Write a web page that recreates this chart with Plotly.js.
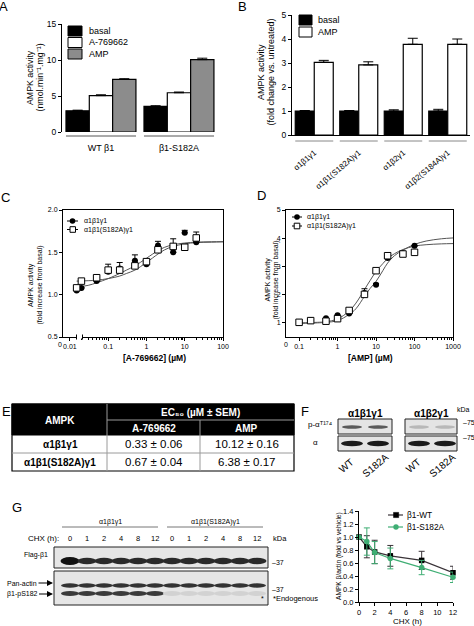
<!DOCTYPE html>
<html><head><meta charset="utf-8">
<script src="https://cdn.plot.ly/plotly-3.0.1.min.js"></script>
<style>html,body{margin:0;padding:0;background:#fff}#chart{width:474px;height:626px}</style>
</head><body><div id="chart"></div>
<script>
// ===== DATA =====
// Panel A
const aGroups = ['WT β1', 'β1-S182A'];
const aNames = ['basal', 'A-769662', 'AMP'];
const aBasal = [2.95, 3.55], aBasalErr = [0.08, 0.1];
const aA769 = [5.05, 5.45], aA769Err = [0.12, 0.1];
const aAMP = [7.3, 10.05], aAMPErr = [0.1, 0.2];
// Panel B
const bComplexes = ['α1β1γ1', 'α1β1(S182A)γ1', 'α1β2γ1', 'α1β2(S184A)γ1'];
const bNames = ['basal', 'AMP'];
const bBasal = [1, 1, 1, 1], bBasalErr = [0.02, 0.02, 0.05, 0.07];
const bAMP = [3.03, 2.92, 3.78, 3.78], bAMPErr = [0.08, 0.13, 0.25, 0.22];
// Panel C
const cNames = ['α1β1γ1', 'α1β1(S182A)γ1'];
const cConc = [0.015, 0.02, 0.05, 0.1, 0.2, 0.5, 1, 2, 5, 10, 20];
const cWT = [1.05, 1.08, 1.16, 1.27, 1.31, 1.40, 1.36, 1.58, 1.50, 1.73, 1.62];
const cWTErr = [0, 0, 0, 0, 0.07, 0.07, 0, 0.05, 0, 0.03, 0];
const cMut = [1.08, 1.16, 1.20, 1.29, 1.29, 1.34, 1.39, 1.53, 1.57, 1.56, 1.67];
const cMutErr = [0, 0, 0, 0.07, 0, 0, 0.03, 0, 0.09, 0, 0.07];
const cFitX = [0.015, 0.03, 0.05, 0.1, 0.2, 0.3, 0.5, 1, 2, 3, 5, 10, 20, 50, 100];
const cFitWT = [1.09, 1.11, 1.14, 1.19, 1.25, 1.29, 1.34, 1.43, 1.52, 1.56, 1.59, 1.61, 1.62, 1.625, 1.625];
const cFitMut = [1.16, 1.165, 1.17, 1.19, 1.22, 1.25, 1.29, 1.38, 1.48, 1.53, 1.57, 1.60, 1.615, 1.62, 1.625];
// Panel D
const dConc = [0.1, 0.2, 0.5, 1, 2, 5, 10, 20, 50, 100];
const dWT = [1.02, 1.09, 1.16, 1.27, 1.33, 2.06, 2.35, 3.30, 3.47, 3.73];
const dWTErr = [0, 0, 0, 0, 0, 0.15, 0.05, 0, 0, 0];
const dMut = [1.02, 1.08, 1.06, 1.15, 1.44, 2.01, 2.85, 3.38, 3.44, 3.50];
const dMutErr = [0, 0, 0, 0, 0, 0, 0, 0.04, 0, 0];
const dFitX = [0.1, 0.3, 0.5, 1, 2, 3, 5, 7, 10, 15, 20, 30, 50, 100, 200, 500, 1000];
const dFitWT = [0.98, 1.0, 1.02, 1.08, 1.3, 1.5, 1.94, 2.22, 2.47, 2.85, 3.12, 3.38, 3.58, 3.78, 3.9, 3.98, 4.01];
const dFitMut = [1.0, 1.02, 1.04, 1.14, 1.42, 1.7, 2.18, 2.5, 2.82, 3.1, 3.28, 3.45, 3.6, 3.72, 3.77, 3.8, 3.81];
// Panel E (table)
const eHeader = ['AMPK', 'EC₅₀ (µM ± SEM)'];
const eCols = ['A-769662', 'AMP'];
const eRows = ['α1β1γ1', 'α1β1(S182A)γ1'];
const eA769 = ['0.33 ± 0.06', '0.67 ± 0.04'];
const eAMPv = ['10.12 ± 0.16', '6.38 ± 0.17'];
// Panel F (blots)
const fComplexes = ['α1β1γ1', 'α1β2γ1'];
const fLanes = ['WT', 'S182A'];
// Panel G
const gGroups = ['α1β1γ1', 'α1β1(S182A)γ1'];
const gLanes = ['0', '1', '2', '4', '8', '12'];
const gNames = ['β1-WT', 'β1-S182A'];
const gTime = [0, 1, 2, 4, 8, 12];
const gWT = [1.0, 0.85, 0.77, 0.71, 0.64, 0.45], gWTErr = [0, 0.17, 0.18, 0.16, 0.14, 0.10];
const gMut = [1.0, 0.93, 0.76, 0.67, 0.53, 0.38], gMutErr = [0, 0.21, 0.17, 0.16, 0.11, 0.08];

// ===== HELPERS =====
const F = 'Liberation Sans, Arial, Helvetica, sans-serif';
const W = 474, H = 626;
const X = p => p / W, Y = p => 1 - p / H;
const shapes = [], ann = [], traces = [];
function rect(x0, y0, x1, y1, fill, lc, lw) {
  shapes.push({type: 'rect', xref: 'paper', yref: 'paper', x0: X(x0), x1: X(x1), y0: Y(y1), y1: Y(y0),
    fillcolor: fill, line: {color: lc || fill, width: lw === undefined ? 1 : lw}, layer: 'above'});
}
function line(x0, y0, x1, y1, c, w) {
  shapes.push({type: 'line', xref: 'paper', yref: 'paper', x0: X(x0), x1: X(x1), y0: Y(y0), y1: Y(y1),
    line: {color: c, width: w}, layer: 'above'});
}
function ell(cx, cy, rx, ry, fill, lc, lw) {
  shapes.push({type: 'circle', xref: 'paper', yref: 'paper', x0: X(cx - rx), x1: X(cx + rx), y0: Y(cy + ry), y1: Y(cy - ry),
    fillcolor: fill, line: {color: lc || fill, width: lw || 0}, layer: 'above'});
}
function T(x, y, text, size, o) {
  o = o || {};
  ann.push({xref: 'paper', yref: 'paper', x: X(x), y: Y(y), text: text, showarrow: false,
    xanchor: o.xa || 'center', yanchor: 'middle', textangle: o.angle || 0,
    font: {family: F, size: size, color: o.color || '#000'}});
}
const errUp = (arr, c, w) => ({type: 'data', symmetric: false, array: arr, arrayminus: arr.map(() => 0), color: c || '#000', thickness: 1, width: w || 4});

// ===== PANEL A =====
const aVals = [aBasal, aA769, aAMP], aErrs = [aBasalErr, aA769Err, aAMPErr];
const aColors = ['#000000', '#ffffff', '#8c8c8c'];
aNames.forEach((n, i) => traces.push({type: 'bar', name: n, x: aGroups, y: aVals[i], xaxis: 'x', yaxis: 'y',
  width: 0.299, offset: -0.449 + i * 0.299, marker: {color: aColors[i], line: {color: '#000', width: 1.2}},
  error_y: errUp(aErrs[i], '#000', 5), showlegend: false, cliponaxis: false}));
aGroups.forEach((g, i) => shapes.push({type: 'line', xref: 'x', yref: 'paper', x0: i - 0.449, x1: i + 0.449, y0: Y(136), y1: Y(136), line: {color: '#555', width: 1}}));
aNames.forEach((n, i) => { rect(68, 26 + i * 11.5, 82, 36 + i * 11.5, aColors[i], '#000', 1); T(87, 31 + i * 11.5, n, 9, {xa: 'left'}); });
T(30, 78, 'AMPK activity', 8.8, {angle: -90});
T(39.5, 78, '(nmol.min⁻¹.mg⁻¹)', 8.8, {angle: -90});

// ===== PANEL B =====
const bVals = [bBasal, bAMP], bErrs = [bBasalErr, bAMPErr], bColors = ['#000000', '#ffffff'];
bNames.forEach((n, i) => traces.push({type: 'bar', name: n, x: bComplexes, y: bVals[i], xaxis: 'x2', yaxis: 'y2',
  width: 0.427, offset: -0.427 + i * 0.427, marker: {color: bColors[i], line: {color: '#000', width: 1.2}},
  error_y: errUp(bErrs[i], '#000', 5), showlegend: false, cliponaxis: false}));
bComplexes.forEach((g, i) => shapes.push({type: 'line', xref: 'x2', yref: 'paper', x0: i - 0.427, x1: i + 0.427, y0: Y(141), y1: Y(141), line: {color: '#888', width: 1}}));
bNames.forEach((n, i) => { rect(299, 15 + i * 12, 312, 25 + i * 12, bColors[i], '#000', 1); T(316, 20 + i * 12, n, 9, {xa: 'left'}); });
T(261, 72, 'AMPK activity', 9, {angle: -90});
T(270.5, 72, '(fold change vs. untreated)', 9, {angle: -90});

// ===== PANEL C =====
const sym = [{symbol: 'circle', size: 6, color: '#000'}, {symbol: 'square', size: 6.5, color: '#fff', line: {color: '#000', width: 1}}];
traces.push({type: 'scatter', mode: 'lines', x: cFitX, y: cFitWT, xaxis: 'x3', yaxis: 'y3', line: {color: '#555', width: 1, shape: 'spline'}, showlegend: false, hoverinfo: 'skip'});
traces.push({type: 'scatter', mode: 'lines', x: cFitX, y: cFitMut, xaxis: 'x3', yaxis: 'y3', line: {color: '#555', width: 1, shape: 'spline'}, showlegend: false, hoverinfo: 'skip'});
traces.push({type: 'scatter', mode: 'markers', name: cNames[0], x: cConc, y: cWT, xaxis: 'x3', yaxis: 'y3', marker: sym[0], error_y: errUp(cWTErr, '#000', 3), showlegend: false, cliponaxis: false});
traces.push({type: 'scatter', mode: 'markers', name: cNames[1], x: cConc, y: cMut, xaxis: 'x3', yaxis: 'y3', marker: sym[1], error_y: errUp(cMutErr, '#000', 3), showlegend: false, cliponaxis: false});
cNames.forEach((n, i) => {
  const y = 221 + i * 8.5;
  line(67, y, 78, y, '#000', 1);
  if (i === 0) ell(72.5, y, 2.8, 2.8, '#000'); else rect(70, y - 2.8, 75.5, y + 2.8, '#fff', '#000', 1);
  T(82, y, n, 7, {xa: 'left'});
});
T(60, 344.5, '0', 7);
line(77, 337, 82, 337, '#fff', 3);
line(76.5, 334.5, 76.5, 339.5, '#000', 1);
line(82.5, 334.5, 82.5, 339.5, '#000', 1);
T(31, 285, 'AMPK activity', 7, {angle: -90});
T(39.5, 285, '(fold increase from basal)', 7, {angle: -90});
T(154, 358, '<b>[A-769662] (µM)</b>', 8.5);

// ===== PANEL D =====
traces.push({type: 'scatter', mode: 'lines', x: dFitX, y: dFitWT, xaxis: 'x4', yaxis: 'y4', line: {color: '#555', width: 1, shape: 'spline'}, showlegend: false, hoverinfo: 'skip'});
traces.push({type: 'scatter', mode: 'lines', x: dFitX, y: dFitMut, xaxis: 'x4', yaxis: 'y4', line: {color: '#555', width: 1, shape: 'spline'}, showlegend: false, hoverinfo: 'skip'});
traces.push({type: 'scatter', mode: 'markers', name: cNames[0], x: dConc, y: dWT, xaxis: 'x4', yaxis: 'y4', marker: sym[0], error_y: errUp(dWTErr, '#000', 3), showlegend: false, cliponaxis: false});
traces.push({type: 'scatter', mode: 'markers', name: cNames[1], x: dConc, y: dMut, xaxis: 'x4', yaxis: 'y4', marker: sym[1], error_y: errUp(dMutErr, '#000', 3), showlegend: false, cliponaxis: false});
cNames.forEach((n, i) => {
  const y = 217 + i * 9;
  line(292, y, 302, y, '#000', 1);
  if (i === 0) ell(297, y, 2.8, 2.8, '#000'); else rect(294.2, y - 2.8, 299.8, y + 2.8, '#fff', '#000', 1);
  T(305, y, n, 7, {xa: 'left'});
});
T(286, 344.5, '0', 7);
T(267.5, 280, 'AMPK activity', 7, {angle: -90});
T(275.5, 280, '(fold increase from basal)', 7, {angle: -90});
T(370, 358, '<b>[AMP] (µM)</b>', 8.5);

// ===== PANEL E (table) =====
rect(12, 404, 294, 471, '#ffffff', '#000', 1.2);
rect(12, 404, 294, 435, '#000000', '#000', 1);
line(107, 420, 294, 420, '#9a9a9a', 1);
line(107, 404, 107, 471, '#9a9a9a', 1);
line(200, 420, 200, 471, '#9a9a9a', 1);
line(12, 453, 294, 453, '#9a9a9a', 1);
T(60, 420, '<b>' + eHeader[0] + '</b>', 10, {color: '#fff'});
T(200, 412, '<b>' + eHeader[1] + '</b>', 10, {color: '#fff'});
T(153.5, 428, '<b>' + eCols[0] + '</b>', 10, {color: '#fff'});
T(247, 428, '<b>' + eCols[1] + '</b>', 10, {color: '#fff'});
eRows.forEach((r, i) => {
  const y = 444 + i * 18;
  T(60, y, '<b>' + r + '</b>', 10);
  T(153.5, y, eA769[i], 11.5);
  T(247, y, eAMPv[i], 11.5);
});

// ===== PANEL F (blots) =====
const fBoxX = [[338, 392], [405, 457]];
fComplexes.forEach((c, k) => {
  const [x0, x1] = fBoxX[k];
  T((x0 + x1) / 2, 413, '<b>' + c + '</b>', 10);
  rect(x0, 419, x1, 434, '#e4e4e4', '#222', 1);
  rect(x0, 436, x1, 451, '#e4e4e4', '#222', 1);
  fLanes.forEach((l, j) => {
    const cx = x0 + 14 + j * 26;
    ell(cx, 427, 10, 1.8, k === 0 ? '#5a5a5a' : '#b8b8b8');
    ell(cx, 443.5, 11, 2.8, '#1a1a1a');
    T(cx - 6 + j * 3, 465, l, 10, {angle: -40});
  });
});
T(463, 409, 'kDa', 7);
T(461, 423, '–75', 7, {xa: 'left'});
T(461, 437, '–75', 7, {xa: 'left'});
T(320, 424, 'p-αᵀ¹⁷⁴', 8);
T(315, 442, 'α', 8);

// ===== PANEL G (blot) =====
const gLaneX = i => 70 + i * 17;
gGroups.forEach((g, k) => {
  T(110 + k * 105, 522, g, 7);
  line(62 + k * 105, 527, 158 + k * 105, 527, '#777', 1);
});
T(43, 538, 'CHX (h):', 8);
gGroups.forEach((g, k) => gLanes.forEach((l, j) => T(gLaneX(k * 6 + j), 538, l, 7.5)));
T(280, 538, 'kDa', 7.5);
rect(54, 547, 268, 568, '#e6e6e6', '#222', 1);
rect(54, 571, 268, 605, '#e6e6e6', '#222', 1);
for (let i = 0; i < 12; i++) {
  const cx = gLaneX(i);
  ell(cx, 561, 9.5, i === 0 ? 4 : 3.2, i === 0 ? '#111' : '#2a2a2a');
  ell(cx, 585.5, 9, 2.2, '#333');
  ell(cx, 593.5, 9, 2.6, i < 6 ? '#3a3a3a' : '#d2d2d2');
}
T(36, 555, 'Flag-β1', 7);
T(270, 562, '–37', 7, {xa: 'left'});
T(270, 589, '–37', 7, {xa: 'left'});
T(271, 598, '*Endogenous', 7.5, {xa: 'left'});
T(262, 598, '*', 7);
ann.push({xref: 'paper', yref: 'paper', x: X(53), y: Y(583), ax: -31, ay: 0, text: 'Pan-actin', showarrow: true, arrowhead: 2, arrowsize: 1, arrowwidth: 1.2, arrowcolor: '#000', font: {family: F, size: 7, color: '#000'}});
ann.push({xref: 'paper', yref: 'paper', x: X(53), y: Y(594), ax: -31, ay: 0, text: 'β1-pS182', showarrow: true, arrowhead: 2, arrowsize: 1, arrowwidth: 1.2, arrowcolor: '#000', font: {family: F, size: 7, color: '#000'}});

// ===== PANEL G (line chart) =====
const gCol = ['#3a3338', '#3fae74'];
traces.push({type: 'scatter', mode: 'lines+markers', name: gNames[0], x: gTime, y: gWT, xaxis: 'x5', yaxis: 'y5',
  line: {color: gCol[0], width: 1.2}, marker: {symbol: 'square', size: 5.5, color: '#000'},
  error_y: {type: 'data', array: gWTErr, color: gCol[0], thickness: 1, width: 3}, showlegend: false, cliponaxis: false});
traces.push({type: 'scatter', mode: 'lines+markers', name: gNames[1], x: gTime, y: gMut, xaxis: 'x5', yaxis: 'y5',
  line: {color: gCol[1], width: 1.2}, marker: {symbol: 'circle', size: 5.5, color: gCol[1]},
  error_y: {type: 'data', array: gMutErr, color: gCol[1], thickness: 1, width: 3}, showlegend: false, cliponaxis: false});
gNames.forEach((n, i) => {
  const y = 515 + i * 12;
  line(388, y, 403, y, gCol[i], 1.2);
  if (i === 0) rect(393.5, y - 2.6, 398.7, y + 2.6, '#000', '#000', 0.5); else ell(396, y, 2.7, 2.7, gCol[1]);
  T(405, y, n, 8.3, {xa: 'left'});
});
T(339, 556, 'AMPK β/actin (fold vs vehicle)', 6.6, {angle: -90});
T(407, 621, 'CHX (h)', 8);

// Panel letters
[['A', 4, 7], ['B', 243, 7], ['C', 5, 197], ['D', 261, 195], ['E', 6, 411], ['F', 305, 411], ['G', 17, 507]].forEach(p => T(p[1], p[2], p[0], 13));

// ===== LAYOUT =====
const base = {showgrid: false, zeroline: false, showline: true, linecolor: '#000', linewidth: 1, ticks: 'outside', ticklen: 3,
  tickwidth: 1, tickcolor: '#000', fixedrange: true};
const tf = s => ({family: F, size: s, color: '#000'});
const logMinor = (lo, hi) => { const v = []; for (let d = lo; d < hi; d++) for (let k = 2; k <= 9; k++) v.push(k * Math.pow(10, d)); return v; };
const layout = {
  width: W, height: H, margin: {l: 0, r: 0, t: 0, b: 0}, paper_bgcolor: '#fff', plot_bgcolor: 'rgba(0,0,0,0)',
  showlegend: false, barmode: 'overlay', font: {family: F, color: '#000'},
  xaxis: Object.assign({}, base, {domain: [X(62), X(218)], anchor: 'y', type: 'category', showline: false, ticks: '', tickfont: tf(9), ticklabelstandoff: 9, range: [-0.5, 1.5]}),
  yaxis: Object.assign({}, base, {domain: [Y(132), Y(24)], anchor: 'x', range: [0, 15], tickvals: [0, 5, 10, 15], tickfont: tf(8.5)}),
  xaxis2: Object.assign({}, base, {domain: [X(292), X(470)], anchor: 'y2', type: 'category', ticks: '', tickangle: -40, tickfont: tf(8), ticklabelstandoff: 9, range: [-0.5, 3.5]}),
  yaxis2: Object.assign({}, base, {domain: [Y(135), Y(15)], anchor: 'x2', range: [0, 5], tickvals: [0, 1, 2, 3, 4, 5], tickfont: tf(8.5)}),
  xaxis3: Object.assign({}, base, {domain: [X(63), X(223)], anchor: 'y3', type: 'log', range: [-2.18, 2], mirror: true,
    tickmode: 'array', tickvals: [0.01, 0.1, 1, 10, 100], ticktext: ['0.01', '0.1', '1', '10', '100'], tickfont: tf(7),
    minor: {tickmode: 'array', tickvals: logMinor(-2, 2), ticks: 'outside', ticklen: 2, tickcolor: '#000', showgrid: false}}),
  yaxis3: Object.assign({}, base, {domain: [Y(337), Y(210)], anchor: 'x3', range: [0.5, 2.0], mirror: true, tickvals: [0.5, 1, 1.5, 2], tickformat: '.1f', tickfont: tf(7)}),
  xaxis4: Object.assign({}, base, {domain: [X(286), X(453)], anchor: 'y4', type: 'log', range: [-1.34, 3], mirror: true,
    tickmode: 'array', tickvals: [0.1, 1, 10, 100, 1000], ticktext: ['0.1', '1', '10', '100', '1000'], tickfont: tf(7),
    minor: {tickmode: 'array', tickvals: logMinor(-1, 3), ticks: 'outside', ticklen: 2, tickcolor: '#000', showgrid: false}}),
  yaxis4: Object.assign({}, base, {domain: [Y(337), Y(210)], anchor: 'x4', range: [0.5, 5], mirror: true, tickvals: [1, 2, 3, 4, 5], tickfont: tf(7)}),
  xaxis5: Object.assign({}, base, {domain: [X(359), X(453)], anchor: 'y5', range: [0, 12], tickvals: [0, 2, 4, 6, 8, 10, 12], tickfont: tf(7.5)}),
  yaxis5: Object.assign({}, base, {domain: [Y(602), Y(511)], anchor: 'x5', range: [0, 1.4], tickvals: [0, 0.2, 0.4, 0.6, 0.8, 1.0, 1.2, 1.4], tickformat: '.1f', tickfont: tf(7.5)}),
  shapes: shapes, annotations: ann
};
Plotly.newPlot('chart', traces, layout, {staticPlot: true, displayModeBar: false});
</script></body></html>
